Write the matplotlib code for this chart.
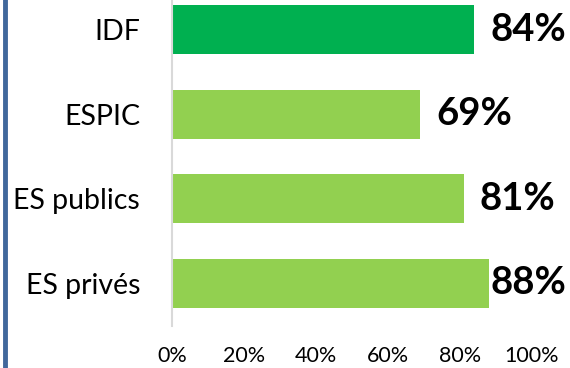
import matplotlib.pyplot as plt
from matplotlib.lines import Line2D

# Share of establishments, by category
categories = ['IDF', 'ESPIC', 'ES publics', 'ES privés']
values = [84, 69, 81, 88]
colors = ['#00B050', '#92D050', '#92D050', '#92D050']
xticks = [0, 20, 40, 60, 80, 100]

plt.rcParams['font.family'] = ['Lato', 'DejaVu Sans']

fig = plt.figure(figsize=(5.7, 3.68), dpi=100)
ax = fig.add_axes([172 / 570, 42.5 / 368, 360 / 570, 338 / 368])

y = range(len(categories))
ax.barh(y, values, height=0.58, color=colors)
ax.set_ylim(3.5, -0.5)
ax.set_xlim(0, 100)

# value labels at the bar ends (the last one sits closer to stay inside)
for i, v in enumerate(values):
    off = 4.4 if v < 85 else 0.6
    ax.text(v + off, i, f'{v}%', va='center', ha='left',
            fontsize=27.5, fontweight='bold', color='black')

ax.set_yticks(list(y))
ax.set_yticklabels(categories, fontsize=20.5)
ax.set_xticks(xticks)
ax.set_xticklabels([f'{t}%' for t in xticks], fontsize=15.5)
ax.tick_params(axis='y', length=0, pad=23)
ax.tick_params(axis='x', length=0, pad=15)

for s in ['top', 'right', 'bottom']:
    ax.spines[s].set_visible(False)
ax.spines['left'].set_color('#D9D9D9')
ax.spines['left'].set_linewidth(1.5)

# blue frame edge on the left
fig.add_artist(Line2D([5 / 570, 5 / 570], [0, 1], color='#41689C', lw=3.5,
                      transform=fig.transFigure))

fig.savefig('out.png', dpi=100)
